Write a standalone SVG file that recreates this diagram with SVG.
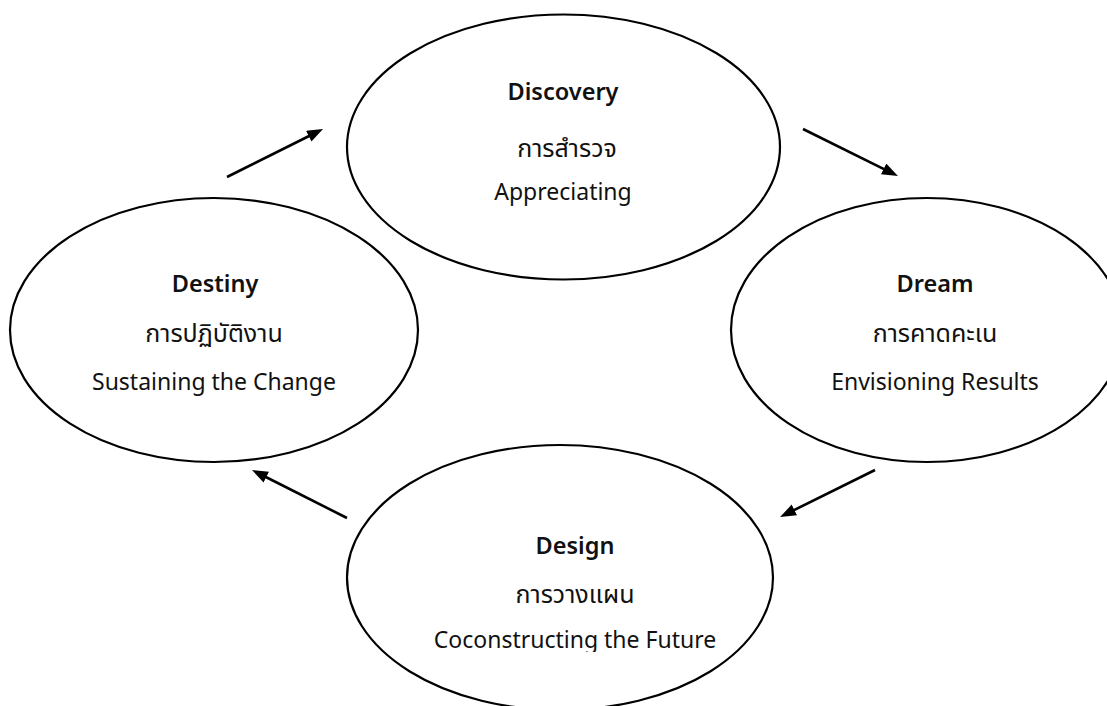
<svg xmlns="http://www.w3.org/2000/svg" width="1107" height="706" viewBox="0 0 1107 706">
<style>
.node ellipse{fill:none;stroke:#000;stroke-width:2.2}
.t{font-family:"Noto Sans","Noto Sans Thai","Leelawadee UI",Tahoma,sans-serif;text-anchor:middle;fill:#111}
.b{font-size:23.5px;font-weight:600}
.r{font-size:23px}
.th{font-size:25px}
.conn line{stroke:#000;stroke-width:2.6}
</style>
<defs>
<marker id="ah" markerUnits="userSpaceOnUse" markerWidth="17" markerHeight="13" refX="6" refY="6" orient="auto">
<path d="M0,0 L16,6 L0,12 z" fill="#000"/>
</marker>
<clipPath id="clipDesign"><rect x="0" y="0" width="1107" height="652"/></clipPath>
</defs>
<rect width="1107" height="706" fill="#fff"/>
<g id="discovery" class="node">
<ellipse cx="563.5" cy="147" rx="216.5" ry="132.5"/>
<text class="t b" x="563" y="100">Discovery</text>
<text class="t th" x="567" y="157">การสำรวจ</text>
<text class="t r" x="563" y="200">Appreciating</text>
</g>
<g id="dream" class="node">
<ellipse cx="927" cy="330" rx="196" ry="132"/>
<text class="t b" x="935" y="292">Dream</text>
<text class="t th" x="935" y="342">การคาดคะเน</text>
<text class="t r" x="935" y="390">Envisioning Results</text>
</g>
<g id="destiny" class="node">
<ellipse cx="214" cy="330" rx="204" ry="132"/>
<text class="t b" x="215" y="292">Destiny</text>
<text class="t th" x="214" y="342">การปฏิบัติงาน</text>
<text class="t r" x="214" y="390">Sustaining the Change</text>
</g>
<g id="design" class="node">
<ellipse cx="560" cy="577.5" rx="213" ry="132.5"/>
<text class="t b" x="575" y="554">Design</text>
<text class="t th" x="575" y="603">การวางแผน</text>
<text class="t r" x="575" y="648" clip-path="url(#clipDesign)">Coconstructing the Future</text>
</g>
<g id="connectors" class="conn">
<line x1="227" y1="177" x2="314.1" y2="133.5" marker-end="url(#ah)"/>
<line x1="803" y1="129" x2="889" y2="171.6" marker-end="url(#ah)"/>
<line x1="875" y1="470" x2="789" y2="512.6" marker-end="url(#ah)"/>
<line x1="347" y1="518" x2="260.9" y2="474.5" marker-end="url(#ah)"/>
</g>
</svg>
